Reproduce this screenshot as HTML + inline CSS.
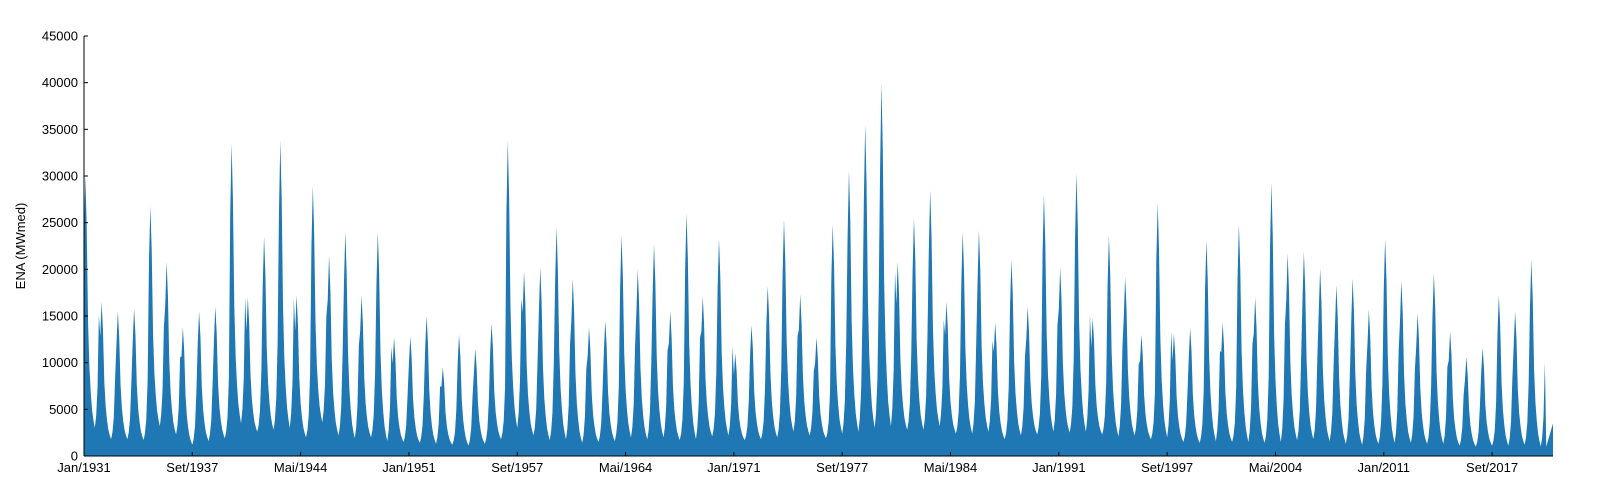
<!DOCTYPE html>
<html><head><meta charset="utf-8"><style>
body{margin:0;background:#fff;}
svg{display:block;font-family:"Liberation Sans","DejaVu Sans",sans-serif;}
</style></head><body>
<svg id="chart" width="1600" height="500">
<g id="area"></g>
<g id="axes"></g>
<text transform="translate(25,246) rotate(-90)" text-anchor="middle" font-size="13">ENA (MWmed)</text>
</svg>
<script>
// Annual peak ENA (MWmed), 1931..2021
const peaks=[30000,16500,15500,15800,26800,20800,13800,15500,16000,33500,17000,23500,33800,17200,28900,21500,24000,17200,24000,12700,12800,15000,9500,13000,11500,14200,33800,19800,20200,24500,19000,13800,14500,23600,20000,22700,15500,26000,17100,23300,11000,14000,18200,25300,17300,12700,24800,30600,35500,40000,20800,25500,28500,16500,24000,24200,14300,21000,16000,28000,20200,30300,14800,23600,19200,13000,27100,13100,13700,23100,14300,24800,17000,29300,21700,21900,20100,18300,19000,15700,23300,18800,15300,19600,13300,10600,11600,17200,15500,21000,3500];
// Annual minimum ENA (MWmed)
const minima=[3000,1800,1800,1700,3200,2300,1200,1600,1900,3500,2600,2800,3000,2000,3600,2200,1900,2000,1600,1500,1400,1300,1200,1100,1300,1800,3000,2200,1700,1800,1400,1500,1600,2000,1800,2000,1700,1800,2100,2200,1700,1800,2000,2600,2200,1900,2400,2600,3000,3200,2800,2800,3200,2400,2400,2600,1800,2200,2300,2600,2500,2600,2300,2100,2200,1800,2000,1500,1400,1600,1500,1500,1400,1500,1700,1800,1600,1300,1200,1300,1400,1400,1300,1300,1100,1000,1100,1100,1200,1000,1000];
// Seasonal shape (Jan..Dec), fraction of annual range
const profile=[0.75,1.0,0.8,0.42,0.24,0.14,0.07,0.03,0.0,0.05,0.16,0.45];
const xTickLabels=["Jan/1931","Set/1937","Mai/1944","Jan/1951","Set/1957","Mai/1964","Jan/1971","Set/1977","Mai/1984","Jan/1991","Set/1997","Mai/2004","Jan/2011","Set/2017"];
const yTicks=[0,5000,10000,15000,20000,25000,30000,35000,40000,45000];

const X0=84,X1=1553,Y0=456,Y1=36,NM=1085;
const xs=m=>X0+(X1-X0)*m/NM;
const ys=v=>Y0-(Y0-Y1)*v/45000;
const NS="http://www.w3.org/2000/svg";
const vals=[];
for(let y=0;y<peaks.length;y++){for(let m=0;m<12;m++){
  const i=y*12+m; if(i>NM)break;
  let v=minima[y]+(peaks[y]-minima[y])*profile[m];
  if(y===peaks.length-1) v=m<5?1000+(peaks[y]-1000)*m/5:peaks[y];
  vals.push(v);}}
let d=`M${xs(0)},${Y0}`;
vals.forEach((v,i)=>{d+=`L${xs(i).toFixed(2)},${ys(v).toFixed(2)}`;});
d+=`L${xs(vals.length-1)},${Y0}Z`;
const p=document.createElementNS(NS,"path");
p.setAttribute("d",d);p.setAttribute("fill","#1f77b4");


document.getElementById("area").appendChild(p);

const ax=document.getElementById("axes");
function el(t,a){const e=document.createElementNS(NS,t);for(const k in a)e.setAttribute(k,a[k]);ax.appendChild(e);return e;}
const l1=el("line",{x1:X0,y1:Y1,x2:X0,y2:Y0,stroke:"#000","stroke-width":1});


const l2=el("line",{x1:X0,y1:Y0,x2:X1,y2:Y0,stroke:"#000","stroke-width":1});


yTicks.forEach(v=>{
  const t=el("line",{x1:X0,y1:ys(v),x2:X0+4,y2:ys(v),stroke:"#000"});
  
  
  const tx=el("text",{x:X0-6,y:ys(v)+4.5,"text-anchor":"end","font-size":13});
  tx.textContent=v;
  
  
});
xTickLabels.forEach((lab,i)=>{
  const x=xs(i*80);
  const t=el("line",{x1:x,y1:Y0,x2:x,y2:Y0-4,stroke:"#000"});
  
  
  const tx=el("text",{x:x,y:Y0+16,"text-anchor":"middle","font-size":13});
  tx.textContent=lab;
  
  
});
</script>
</body></html>
